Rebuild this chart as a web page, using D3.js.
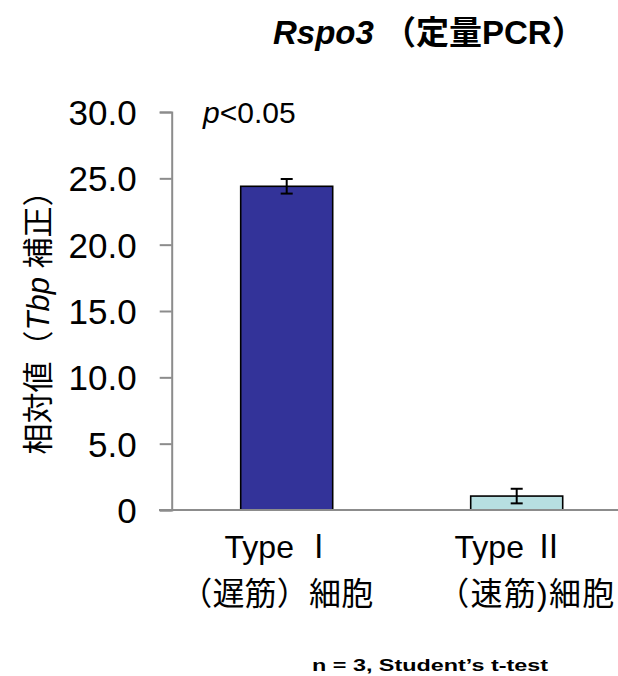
<!DOCTYPE html>
<html>
<head>
<meta charset="utf-8">
<script src="https://cdn.jsdelivr.net/npm/d3@7"></script>
<style>
  html, body { margin: 0; padding: 0; background: #fff; }
  svg { display: block; }
  text { font-family: "Liberation Sans", Arial, "Noto Sans CJK JP", sans-serif; fill: #000; }
</style>
</head>
<body>
<svg id="chart" width="618" height="676"></svg>
<script>
// Relative Rspo3 expression (qPCR, normalised to Tbp)
const categories = ["Type I", "Type II"];
const labelLine1 = ["Type \u2160", "Type \u2161"];
const labelLine2 = ["（遅筋）細胞", "（速筋)細胞"];
const means = [24.4, 1.05];
const errors = [0.55, 0.55];
const fills = ["#333399", "#b7dfe1"];
const yTicks = [0, 5, 10, 15, 20, 25, 30];

const svg = d3.select("#chart");

const y = d3.scaleLinear().domain([0, 30]).range([510, 112]);
const x = d3.scaleBand().domain(categories)
  .range([171.7, 631.7]).paddingInner(0.6).paddingOuter(0.3);

// y axis
const yAxis = d3.axisLeft(y).tickValues(yTicks).tickSize(12)
  .tickFormat(d => d === 0 ? "0" : d3.format(".1f")(d));
const gy = svg.append("g").attr("transform", "translate(171.7,0)").call(yAxis);
gy.select(".domain").attr("stroke", "#8c8c8c").attr("stroke-width", 2);
gy.selectAll(".tick line").attr("stroke", "#8c8c8c").attr("stroke-width", 2);
gy.selectAll(".tick text")
  .attr("x", -35).attr("dy", "0.36em")
  .style("font-size", "35px")
  .style("font-family", "'Liberation Sans', Arial, sans-serif");

// bars
svg.selectAll("rect.bar").data(categories).enter().append("rect")
  .attr("class", "bar")
  .attr("x", d => x(d))
  .attr("width", x.bandwidth())
  .attr("y", (d, i) => y(means[i]))
  .attr("height", (d, i) => y(0) - y(means[i]))
  .attr("fill", (d, i) => fills[i])
  .attr("stroke", "#000").attr("stroke-width", 1.6);

// x axis baseline, drawn over the bar bottoms
svg.append("line")
  .attr("x1", 159).attr("x2", 618)
  .attr("y1", y(0)).attr("y2", y(0))
  .attr("stroke", "#8c8c8c").attr("stroke-width", 2);

// error bars
const eb = svg.selectAll("g.err").data(categories).enter().append("g").attr("class", "err");
eb.each(function(d, i) {
  const g = d3.select(this);
  const cx = x(d) + x.bandwidth() / 2;
  const top = y(means[i] + errors[i]);
  const bot = y(means[i] - errors[i]);
  g.append("line").attr("x1", cx).attr("x2", cx).attr("y1", top).attr("y2", bot);
  g.append("line").attr("x1", cx - 6).attr("x2", cx + 6).attr("y1", top).attr("y2", top);
  g.append("line").attr("x1", cx - 6).attr("x2", cx + 6).attr("y1", bot).attr("y2", bot);
});
eb.selectAll("line").attr("stroke", "#000").attr("stroke-width", 2);

// category labels
categories.forEach((c, i) => {
  const cx = x(c) + x.bandwidth() / 2;
  svg.append("text").attr("x", cx - 7).attr("y", 558)
    .attr("text-anchor", "middle").style("font-size", "32px")
    .text(labelLine1[i]);
  svg.append("text").attr("x", i === 0 ? cx - 10 : cx + 9).attr("y", 605)
    .attr("text-anchor", "middle").style("font-size", "32px")
    .attr("textLength", i === 0 ? 193 : 177).attr("lengthAdjust", "spacing")
    .text(labelLine2[i]);
});

// y axis title
const yt = svg.append("text")
  .attr("transform", "translate(49,315) rotate(-90)")
  .attr("text-anchor", "middle")
  .style("font-size", "31px");
yt.append("tspan").text("相対値（");
yt.append("tspan").style("font-style", "italic").text("Tbp");
yt.append("tspan").text(" 補正）");

// chart title
const title = svg.append("text").attr("x", 273).attr("y", 44)
  .style("font-size", "33px").style("font-weight", "bold");
title.append("tspan").style("font-style", "italic").text("Rspo3");
title.append("tspan").text(" （定量PCR）");

// significance
const sig = svg.append("text").attr("x", 203).attr("y", 123).style("font-size", "30px");
sig.append("tspan").style("font-style", "italic").text("p");
sig.append("tspan").text("<0.05");

// footnote
svg.append("text").attr("x", 312).attr("y", 671)
  .attr("textLength", 236).attr("lengthAdjust", "spacingAndGlyphs")
  .style("font-size", "17px").style("font-weight", "bold")
  .text("n = 3, Student’s t-test");
</script>
</body>
</html>
